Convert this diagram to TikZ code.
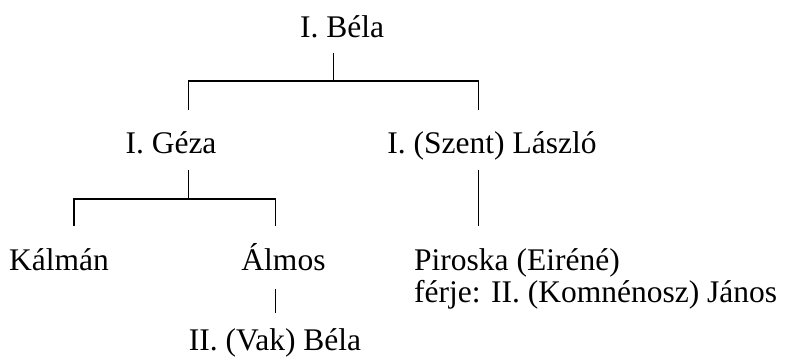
\documentclass[tikz,border=0pt]{standalone}
\usepackage{fontspec}
\setmainfont{Liberation Serif}
\begin{document}
\begin{tikzpicture}[x=1pt,y=-1pt,
  person/.style={inner sep=0pt,anchor=base,font=\fontsize{31.5}{36}\selectfont},
  lperson/.style={person,anchor=base west},
  conn/.style={line width=1.6pt,line cap=butt,line join=miter}]
\useasboundingbox (0,0) rectangle (786,362);
% people
\node[person] (bela) at (342,37) {I. Béla};
\node[person] (geza) at (171,153) {I. Géza};
\node[person] (laszlo) at (492,153) {I. (Szent) László};
\node[person] (kalman) at (59,270) {Kálmán};
\node[person] (almos) at (283.5,270) {Álmos};
\node[lperson] (piroska) at (414,270) {Piroska (Eiréné)};
\node[lperson] (ferje) at (414,302) {férje: II. (Komnénosz) János};
\node[person] (vakbela) at (275,350) {II. (Vak) Béla};
% joints
\coordinate (b0) at (333.5,53);
\coordinate (b1) at (333.5,81);
\coordinate (bl) at (188.5,81);
\coordinate (br) at (478.5,81);
\coordinate (gl) at (188.5,110);
\coordinate (lr) at (478.5,110);
\coordinate (g0) at (188.5,170);
\coordinate (g1) at (188.5,199);
\coordinate (kl) at (74,199);
\coordinate (ar) at (275.5,199);
\coordinate (k1) at (74,226);
\coordinate (a1) at (275.5,226);
\coordinate (l0) at (478.5,170);
\coordinate (l1) at (478.5,226);
\coordinate (v0) at (275.5,289);
\coordinate (v1) at (275.5,313);
% connectors
\draw[conn] (b0) -- (b1);
\draw[conn] (gl) -- (bl) -- (br) -- (lr);
\draw[conn] (g0) -- (g1);
\draw[conn] (k1) -- (kl) -- (ar) -- (a1);
\draw[conn] (l0) -- (l1);
\draw[conn] (v0) -- (v1);
\end{tikzpicture}
\end{document}
